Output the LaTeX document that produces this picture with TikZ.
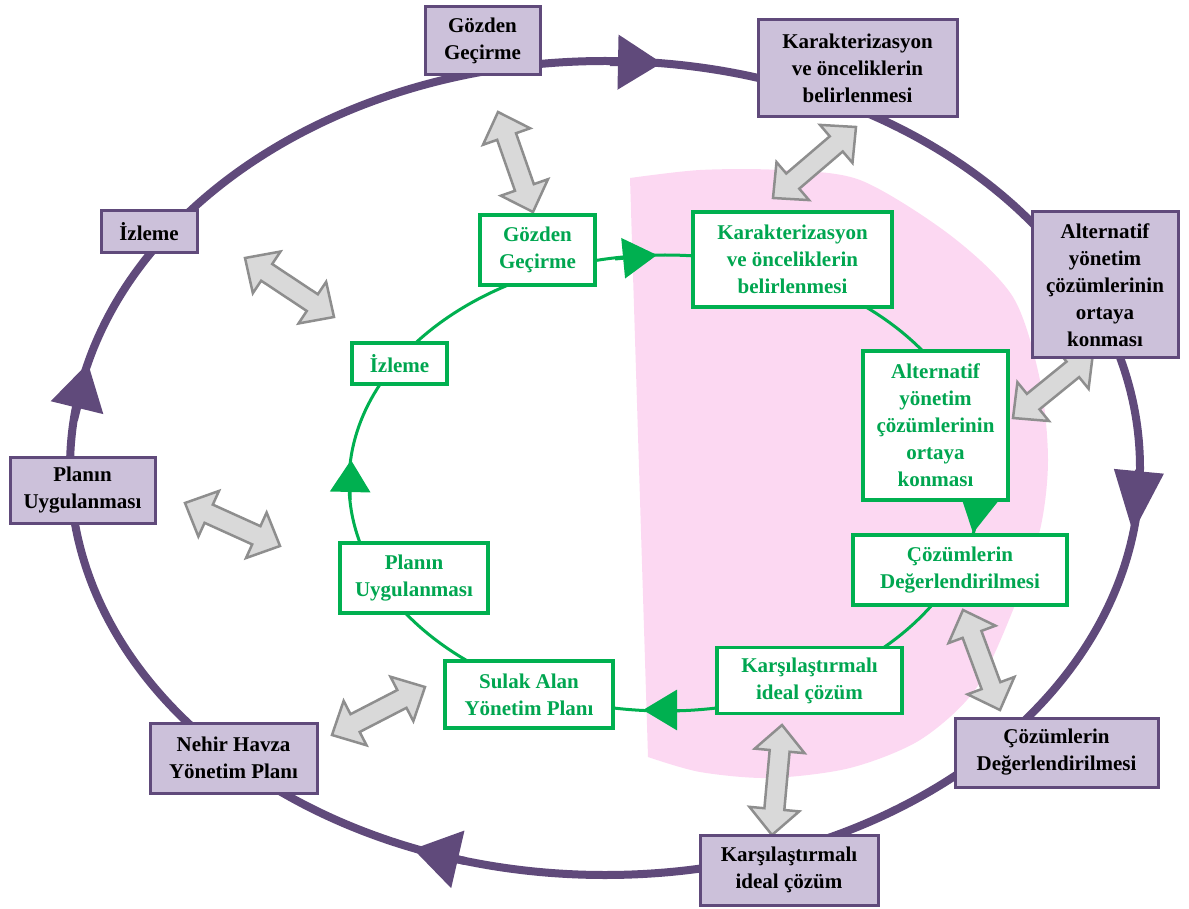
\documentclass[tikz,border=0pt]{standalone}
\usepackage{fontspec}
\setmainfont{Liberation Serif}
\usetikzlibrary{calc,arrows.meta}

\definecolor{ringpurple}{HTML}{604A7B}
\definecolor{boxlilac}{HTML}{CCC1DA}
\definecolor{ringgreen}{HTML}{00B050}
\definecolor{textgreen}{HTML}{00A650}
\definecolor{pinkbg}{HTML}{FCD8F2}
\definecolor{arrowfill}{HTML}{D9D9D9}
\definecolor{arrowedge}{HTML}{8E8E8E}

\tikzset{
  boxfont/.style={font=\fontsize{21}{27}\selectfont\bfseries},
  outerbox/.style={draw=ringpurple, fill=boxlilac, line width=3pt,
    align=center, boxfont, text=black, inner sep=2pt},
  innerbox/.style={draw=ringgreen, fill=white, line width=3.5pt,
    align=center, boxfont, text=textgreen, inner sep=2pt},
  outerring/.style={draw=ringpurple, line width=8pt},
  innerring/.style={draw=ringgreen, line width=3pt},
  blockarrow/.style={fill=arrowfill, draw=arrowedge, line width=2.5pt, line join=miter},
}

% two-headed block arrow between two named coordinates
\newcommand\twoheaded[2]{%
  \draw[blockarrow] (#1)
    -- ($(#1)!26pt!(#2)!25pt!90:(#2)$)
    -- ($(#1)!26pt!(#2)!10pt!90:(#2)$)
    -- ($(#2)!26pt!(#1)!10pt!-90:(#1)$)
    -- ($(#2)!26pt!(#1)!25pt!-90:(#1)$)
    -- (#2)
    -- ($(#2)!26pt!(#1)!25pt!90:(#1)$)
    -- ($(#2)!26pt!(#1)!10pt!90:(#1)$)
    -- ($(#1)!26pt!(#2)!10pt!-90:(#2)$)
    -- ($(#1)!26pt!(#2)!25pt!-90:(#2)$)
    -- cycle;}

\begin{document}
\begin{tikzpicture}[x=1pt,y=-1pt]
\useasboundingbox (0,0) rectangle (1189,909);

% pink background behind the right half of the inner cycle
\fill[pinkbg] plot[smooth] coordinates {(630,178) (700,170) (780,170) (860,180)
  (950,235) (1013,297) (1040,380) (1048,460) (1040,530) (1013,610) (975,690)
  (920,740) (850,768) (770,778) (700,772) (648,757)} -- cycle;

% the two cycles
\coordinate (outerc) at (605,468);
\coordinate (innerc) at (665,483);
\draw[outerring] (outerc) ellipse [x radius=535, y radius=407];
\draw[innerring] (innerc) ellipse [x radius=316, y radius=228];

% direction marks on the outer cycle
\coordinate (oa1) at (610,62);   \coordinate (ob1) at (662,63);
\coordinate (oa2) at (1139,470); \coordinate (ob2) at (1133,533);
\coordinate (oa3) at (465,861);  \coordinate (ob3) at (413,849);
\coordinate (oa4) at (74,420);   \coordinate (ob4) at (88,363);
\draw[outerring, -{Triangle[length=44pt,width=53pt]}] (oa1) -- (ob1);
\draw[outerring, -{Triangle[length=62pt,width=48pt]}] (oa2) -- (ob2);
\draw[outerring, -{Triangle[length=46pt,width=57pt]}] (oa3) -- (ob3);
\draw[outerring, -{Triangle[length=46pt,width=52pt]}] (oa4) -- (ob4);

% direction marks on the inner cycle
\coordinate (ia1) at (615,259);  \coordinate (ib1) at (657,255);
\coordinate (ia2) at (981,488);  \coordinate (ib2) at (973,533);
\coordinate (ia3) at (690,710);  \coordinate (ib3) at (643,710);
\coordinate (ia4) at (350,500);  \coordinate (ib4) at (351,460);
\draw[innerring, -{Triangle[length=34pt,width=40pt]}] (ia1) -- (ib1);
\draw[innerring, -{Triangle[length=36pt,width=38pt]}] (ia2) -- (ib2);
\draw[innerring, -{Triangle[length=34pt,width=40pt]}] (ia3) -- (ib3);
\draw[innerring, -{Triangle[length=32pt,width=40pt]}] (ia4) -- (ib4);

% end points of the two-headed links
\coordinate (la1) at (498,112);  \coordinate (lb1) at (533,212);
\coordinate (la2) at (856,127);  \coordinate (lb2) at (773,198);
\coordinate (la3) at (245,258);  \coordinate (lb3) at (334,317);
\coordinate (la4) at (185,503);  \coordinate (lb4) at (280,546);
\coordinate (la5) at (332,735);  \coordinate (lb5) at (425,687);
\coordinate (la6) at (782,725);  \coordinate (lb6) at (772,835);
\coordinate (la7) at (963,610);  \coordinate (lb7) at (1000,710);
\coordinate (la8) at (1093,353); \coordinate (lb8) at (1013,418);
\twoheaded{la1}{lb1}
\twoheaded{la2}{lb2}
\twoheaded{la3}{lb3}
\twoheaded{la4}{lb4}
\twoheaded{la5}{lb5}
\twoheaded{la6}{lb6}
\twoheaded{la7}{lb7}
\twoheaded{la8}{lb8}

% outer steps
\node[outerbox, minimum width=115pt, minimum height=68pt] (oGoz) at (482.5,41) {Gözden\\Geçirme};
\node[outerbox, minimum width=199pt, minimum height=97pt] (oKar) at (857.5,68.5) {Karakterizasyon\\ve önceliklerin\\belirlenmesi};
\node[outerbox, minimum width=146pt, minimum height=146pt] (oAlt) at (1105,285) {Alternatif\\yönetim\\çözümlerinin\\ortaya\\konması};
\node[outerbox, minimum width=203pt, minimum height=69pt] (oCoz) at (1056.5,752.5) {Çözümlerin\\Değerlendirilmesi};
\node[outerbox, minimum width=178pt, minimum height=70pt] (oKrs) at (789,870) {Karşılaştırmalı\\ideal çözüm};
\node[outerbox, minimum width=167pt, minimum height=70pt] (oNeh) at (233.5,758) {Nehir Havza\\Yönetim Planı};
\node[outerbox, minimum width=145pt, minimum height=66pt] (oPla) at (82.5,490) {Planın\\Uygulanması};
\node[outerbox, minimum width=96pt, minimum height=42pt] (oIzl) at (149,232) {İzleme};

% inner steps
\node[innerbox, minimum width=115pt, minimum height=70pt] (iGoz) at (537.5,250) {Gözden\\Geçirme};
\node[innerbox, minimum width=199pt, minimum height=95pt] (iKar) at (792.5,259.5) {Karakterizasyon\\ve önceliklerin\\belirlenmesi};
\node[innerbox, minimum width=145pt, minimum height=149pt] (iAlt) at (935.5,425.5) {Alternatif\\yönetim\\çözümlerinin\\ortaya\\konması};
\node[innerbox, minimum width=214pt, minimum height=70pt] (iCoz) at (960,570) {Çözümlerin\\Değerlendirilmesi};
\node[innerbox, minimum width=185pt, minimum height=66pt] (iKrs) at (809.5,680.5) {Karşılaştırmalı\\ideal çözüm};
\node[innerbox, minimum width=168pt, minimum height=67pt] (iSul) at (529,694.5) {Sulak Alan\\Yönetim Planı};
\node[innerbox, minimum width=148pt, minimum height=70pt] (iPla) at (414,578) {Planın\\Uygulanması};
\node[innerbox, minimum width=95pt, minimum height=41pt] (iIzl) at (399.5,363.5) {İzleme};
\end{tikzpicture}
\end{document}
